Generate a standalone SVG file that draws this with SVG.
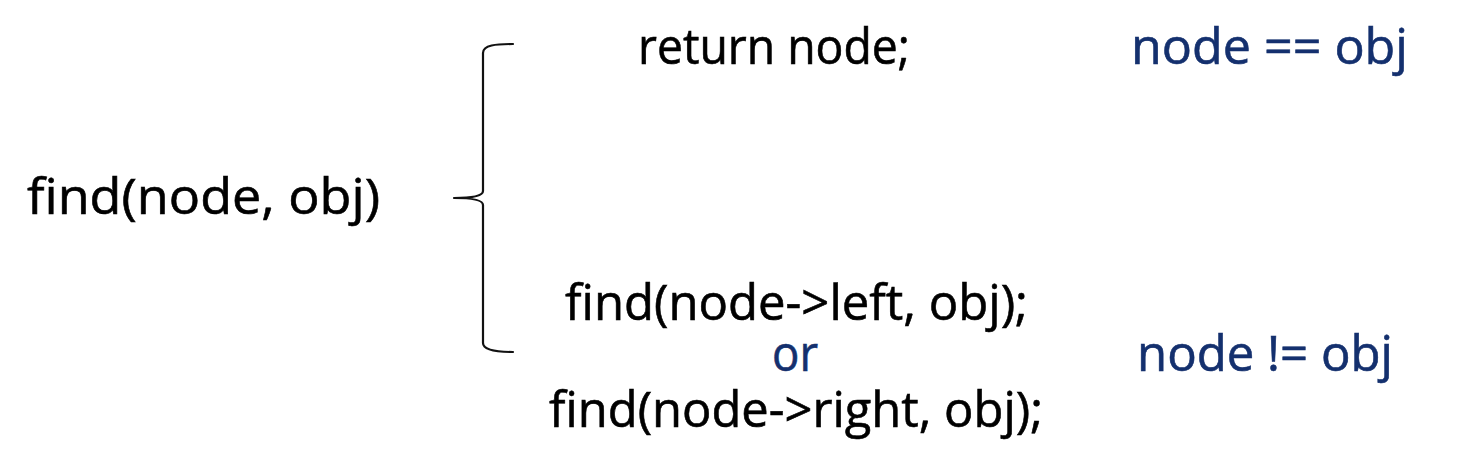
<svg xmlns="http://www.w3.org/2000/svg" width="1464" height="462" viewBox="0 0 1464 462">
  <style>
    .t { font-family: "Open Sans", "Noto Sans", "DejaVu Sans", sans-serif; font-size: 50px; fill: #000000; stroke: #000000; stroke-width: 0.6; }
    .b { fill: #14306e; stroke: #14306e; }
    .br { fill: none; stroke: #111111; stroke-width: 2.2; stroke-linecap: round; stroke-linejoin: round; }
  </style>
  <rect width="1464" height="462" fill="#ffffff"/>
  <g id="connectors">
    <path class="br" d="M513,44 C496,44 483,45 483,53 L483,191 C483,196 472,198 454,198 C472,198 483,200 483,205 L483,343 C483,350 496,352 513,352"/>
  </g>
  <g id="node-find">
    <text class="t" x="27" y="214" textLength="353" lengthAdjust="spacingAndGlyphs">find(node, obj)</text>
  </g>
  <g id="node-return">
    <text class="t" x="638" y="64" textLength="272" lengthAdjust="spacingAndGlyphs">return node;</text>
  </g>
  <g id="node-eq">
    <text class="t b" x="1131" y="64" textLength="277" lengthAdjust="spacingAndGlyphs">node == obj</text>
  </g>
  <g id="node-recurse">
    <text class="t" x="565" y="320" textLength="463" lengthAdjust="spacingAndGlyphs">find(node-&gt;left, obj);</text>
    <text class="t b" x="772" y="371" textLength="46" lengthAdjust="spacingAndGlyphs">or</text>
    <text class="t" x="549" y="427" textLength="494" lengthAdjust="spacingAndGlyphs">find(node-&gt;right, obj);</text>
  </g>
  <g id="node-neq">
    <text class="t b" x="1137" y="371" textLength="256" lengthAdjust="spacingAndGlyphs">node != obj</text>
  </g>
</svg>
